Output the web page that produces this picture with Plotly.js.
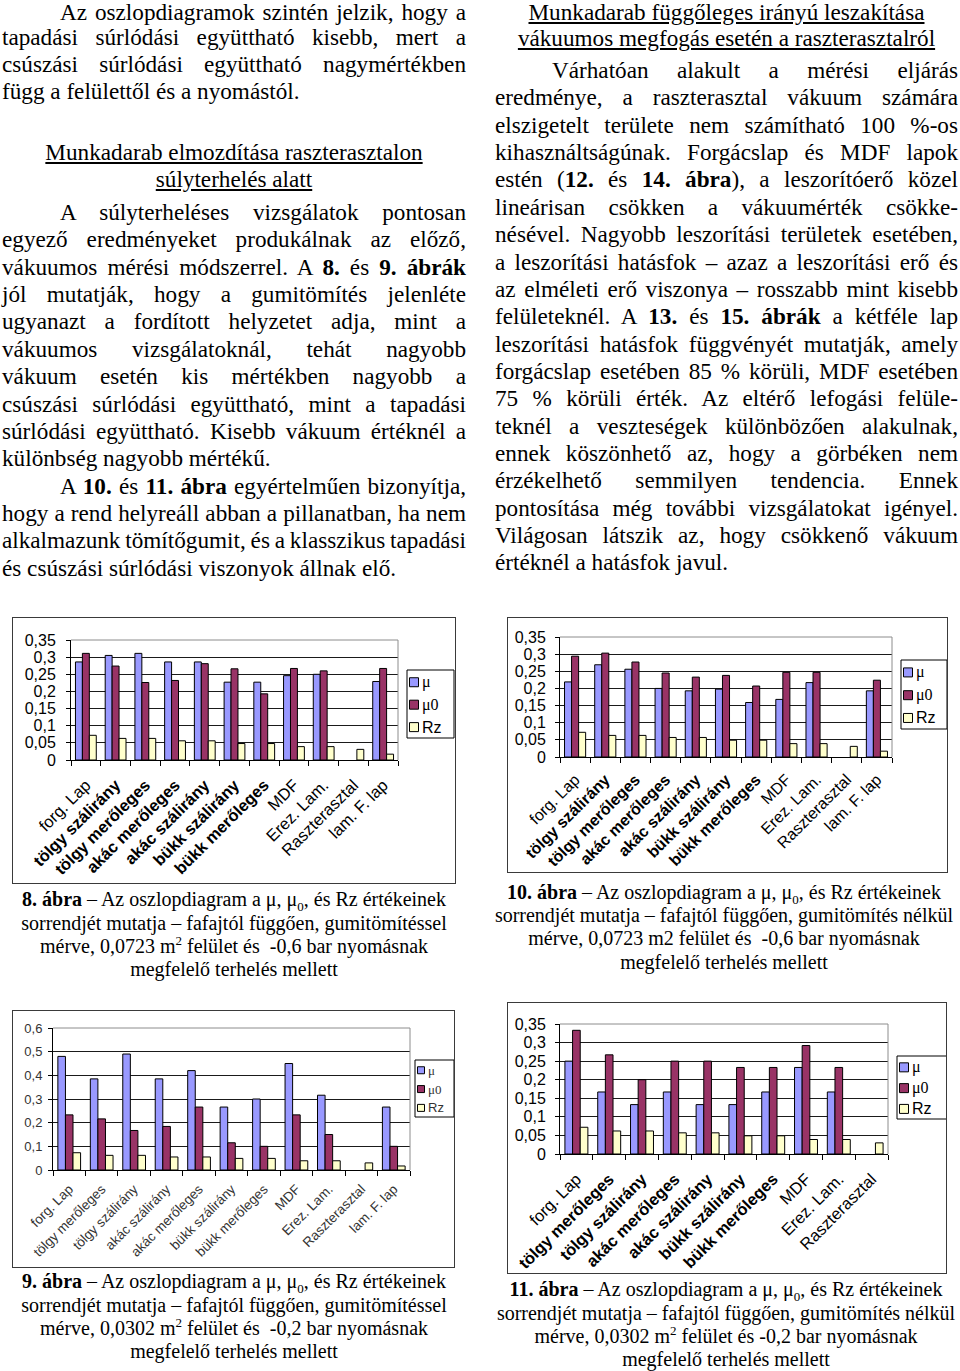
<!DOCTYPE html>
<html><head><meta charset="utf-8">
<script src="https://cdn.plot.ly/plotly-3.0.1.min.js"></script>
<style>
html,body{margin:0;padding:0;background:#fff;}
body{width:960px;height:1371px;position:relative;overflow:hidden;font-family:"Liberation Serif","Times New Roman",serif;color:#000;}
.ln{position:absolute;height:18px;line-height:18px;font-size:23.2px;white-space:nowrap;box-sizing:border-box;}
.ln > span{display:inline-block;line-height:18px;height:18px;vertical-align:top;}
.cap{position:absolute;height:23px;line-height:23px;font-size:20px;white-space:nowrap;text-align:center;}
.cap sub,.cap sup{font-size:13px;line-height:0;}
</style>
</head><body>
<script>
// ---------- DATA ----------
const seriesNames = ['μ', 'μ0', 'Rz'];

// 8. ábra
const cats8 = ['forg. Lap','tölgy szálirány','tölgy merőleges','akác merőleges','akác szálirány','bükk szálirány','bükk merőleges','MDF','Erez. Lam.','Raszterasztal','lam. F. lap'];
const bold8 = [0,1,1,1,1,1,1,0,0,0,0];
const mu8   = [0.286,0.305,0.311,0.286,0.286,0.227,0.227,0.246,0.250,null,0.229];
const mu0_8 = [0.311,0.274,0.226,0.232,0.281,0.266,0.193,0.267,0.260,null,0.267];
const rz8   = [0.072,0.063,0.063,0.056,0.056,0.048,0.048,0.039,0.039,0.031,0.017];

// 10. ábra
const cats10 = ['forg. Lap','tölgy szálirány','tölgy merőleges','akác merőleges','akác szálirány','bükk szálirány','bükk merőleges','MDF','Erez. Lam.','Raszterasztal','lam. F. lap'];
const bold10 = [0,1,1,1,1,1,1,0,0,0,0];
const mu10   = [0.219,0.269,0.256,0.200,0.193,0.198,0.159,0.168,0.217,null,0.193];
const mu0_10 = [0.294,0.303,0.277,0.245,0.233,0.238,0.207,0.247,0.247,null,0.224];
const rz10   = [0.072,0.063,0.063,0.057,0.057,0.049,0.049,0.039,0.039,0.031,0.017];

// 9. ábra
const cats9 = ['forg. Lap','tölgy merőleges','tölgy szálirány','akác szálirány','akác merőleges','bükk szálirány','bükk merőleges','MDF','Erez. Lam.','Raszterasztal','lam. F. lap'];
const bold9 = [0,0,0,0,0,0,0,0,0,0,0];
const mu9   = [0.480,0.385,0.490,0.385,0.420,0.266,0.300,0.450,0.316,null,0.266];
const mu0_9 = [0.233,0.216,0.167,0.184,0.266,0.115,0.100,0.233,0.150,null,0.100];
const rz9   = [0.073,0.062,0.062,0.055,0.055,0.049,0.049,0.039,0.039,0.030,0.017];

// 11. ábra
const cats11 = ['forg. Lap','tölgy merőleges','tölgy szálirány','akác merőleges','akác szálirány','bükk szálirány','bükk merőleges','MDF','Erez. Lam.','Raszterasztal'];
const bold11 = [0,1,1,1,1,1,1,0,0,0];
const mu11   = [0.250,0.167,0.133,0.167,0.133,0.133,0.167,0.233,0.167,null];
const mu0_11 = [0.333,0.267,0.200,0.250,0.250,0.233,0.233,0.292,0.233,null];
const rz11   = [0.072,0.062,0.062,0.057,0.057,0.049,0.049,0.039,0.039,0.030];

// y tick labels
const yTicksA = [0,0.05,0.1,0.15,0.2,0.25,0.3,0.35];
const yTextA  = ['0','0,05','0,1','0,15','0,2','0,25','0,3','0,35'];
const yTicksB = [0,0.1,0.2,0.3,0.4,0.5,0.6];
const yTextB  = ['0','0,1','0,2','0,3','0,4','0,5','0,6'];

// ---------- TEXT ----------
const leftLines = [
 [19.6,'ji','Az oszlopdiagramok szintén jelzik, hogy a'],
 [45.4,'j','tapadási súrlódási együttható kisebb, mert a'],
 [72.1,'j','csúszási súrlódási együttható nagymértékben'],
 [99.1,'l','függ a felülettől és a nyomástól.'],
 [160,'c','Munkadarab elmozdítása raszterasztalon'],
 [187,'c','súlyterhelés alatt'],
 [220,'ji','A súlyterheléses vizsgálatok pontosan'],
 [247.4,'j','egyező eredményeket produkálnak az előző,'],
 [274.7,'j','vákuumos mérési módszerrel. A <b>8.</b> és <b>9.</b> <b>ábrák</b>'],
 [302,'j','jól mutatják, hogy a gumitömítés jelenléte'],
 [329.4,'j','ugyanazt a fordított helyzetet adja, mint a'],
 [356.8,'j','vákuumos vizsgálatoknál, tehát nagyobb'],
 [384.1,'j','vákuum esetén kis mértékben nagyobb a'],
 [411.5,'j','csúszási súrlódási együttható, mint a tapadási'],
 [438.8,'j','súrlódási együttható. Kisebb vákuum értéknél a'],
 [466.2,'l','különbség nagyobb mértékű.'],
 [493.5,'ji','A <b>10.</b> és <b>11. ábra</b> egyértelműen bizonyítja,'],
 [520.9,'j','hogy a rend helyreáll abban a pillanatban, ha nem'],
 [548.2,'j','alkalmazunk tömítőgumit, és a klasszikus tapadási'],
 [575.6,'l','és csúszási súrlódási viszonyok állnak elő.']
];
const rightLines = [
 [19.6,'c','Munkadarab függőleges irányú leszakítása'],
 [46.2,'c','vákuumos megfogás esetén a raszterasztalról'],
 [78,'ji','Várhatóan alakult a mérési eljárás'],
 [105.4,'j','eredménye, a raszterasztal vákuum számára'],
 [132.7,'j','elszigetelt területe nem számítható 100 %-os'],
 [160.1,'j','kihasználtságúnak. Forgácslap és MDF lapok'],
 [187.4,'j','estén (<b>12.</b> és <b>14.</b> <b>ábra</b>), a leszorítóerő közel'],
 [214.8,'j','lineárisan csökken a vákuumérték csökke-'],
 [242.1,'j','nésével. Nagyobb leszorítási területek esetében,'],
 [269.5,'j','a leszorítási hatásfok – azaz a leszorítási erő és'],
 [296.8,'j','az elméleti erő viszonya – rosszabb mint kisebb'],
 [324.2,'j','felületeknél. A <b>13.</b> és <b>15.</b> <b>ábrák</b> a kétféle lap'],
 [351.5,'j','leszorítási hatásfok függvényét mutatják, amely'],
 [378.9,'j','forgácslap esetében 85 % körüli, MDF esetében'],
 [406.2,'j','75 % körüli érték. Az eltérő lefogási felüle-'],
 [433.6,'j','teknél a veszteségek különbözően alakulnak,'],
 [460.9,'j','ennek köszönhető az, hogy a görbéken nem'],
 [488.3,'j','érzékelhető semmilyen tendencia. Ennek'],
 [515.6,'j','pontosítása még további vizsgálatokat igényel.'],
 [543,'j','Világosan látszik az, hogy csökkenő vákuum'],
 [570.3,'l','értéknél a hatásfok javul.']
];
const captions = [
 [234,[906.7,930,953.3,976.7],['<b>8. ábra</b> – Az oszlopdiagram a μ, μ<sub>0</sub>, és Rz értékeinek','sorrendjét mutatja – fafajtól függően, gumitömítéssel','mérve, 0,0723 m<sup>2</sup> felület és &nbsp;-0,6 bar nyomásnak','megfelelő terhelés mellett']],
 [724,[899,922.3,945.7,969],['<b>10. ábra</b> – Az oszlopdiagram a μ, μ<sub>0</sub>, és Rz értékeinek','sorrendjét mutatja – fafajtól függően, gumitömítés nélkül','mérve, 0,0723 m2 felület és &nbsp;-0,6 bar nyomásnak','megfelelő terhelés mellett']],
 [234,[1288.5,1311.8,1335.1,1358.4],['<b>9. ábra</b> – Az oszlopdiagram a μ, μ<sub>0</sub>, és Rz értékeinek','sorrendjét mutatja – fafajtól függően, gumitömítéssel','mérve, 0,0302 m<sup>2</sup> felület és &nbsp;-0,2 bar nyomásnak','megfelelő terhelés mellett']],
 [726,[1296.5,1319.8,1343.1,1366.4],['<b>11. ábra</b> – Az oszlopdiagram a μ, μ<sub>0</sub>, és Rz értékeinek','sorrendjét mutatja – fafajtól függően, gumitömítés nélkül','mérve, 0,0302 m<sup>2</sup> felület és -0,2 bar nyomásnak','megfelelő terhelés mellett']]
];

function drawColumn(lines, colX, colW, indent){
  lines.forEach(([base,type,html])=>{
    const d=document.createElement('div');
    d.className='ln';
    d.style.left=colX+'px'; d.style.width=colW+'px'; d.style.top=(base-17)+'px';
    const s=document.createElement('span'); s.innerHTML=html; d.appendChild(s);
    if(type==='c'){ d.style.textAlign='center'; s.style.textDecoration='underline'; }
    if(type==='ji') d.style.paddingLeft=indent+'px';
    document.body.appendChild(d);
    if(type==='j'||type==='ji'){
      const target=colW-(type==='ji'?indent:0);
      const nat=s.getBoundingClientRect().width;
      const n=(s.textContent.match(/ /g)||[]).length;
      if(n>0) s.style.wordSpacing=((target-nat)/n)+'px';
    }
  });
}
drawColumn(leftLines,2,464,58);
drawColumn(rightLines,495,463,57);
captions.forEach(([cx,bases,lines])=>{
  lines.forEach((h,i)=>{
    const d=document.createElement('div'); d.className='cap';
    d.style.left=(cx-240)+'px'; d.style.width='480px'; d.style.top=(bases[i]-18.3)+'px';
    d.innerHTML=h; document.body.appendChild(d);
  });
});

// ---------- CHARTS ----------
const colors=['#9999FF','#993366','#FFFFCC'];
function drawChart(c){
  const wrap=document.createElement('div');
  wrap.style.cssText=`position:absolute;left:${c.frame[0]}px;top:${c.frame[1]}px;width:${c.frame[2]}px;height:${c.frame[3]}px;border:1px solid #3a3a3a;box-sizing:border-box;background:#fff;`;
  const d=document.createElement('div'); wrap.appendChild(d); document.body.appendChild(wrap);
  const ix=c.frame[0]+1, iy=c.frame[1]+1, iw=c.frame[2]-2, ih=c.frame[3]-2;
  const [x0,y0,x1,y1]=c.plot;
  const l=x0-ix, t=y0-iy, pw=x1-x0, ph=y1-y0, r=iw-l-pw, b=ih-t-ph;
  const px=x=>(x-x0)/pw, py=y=>(y1-y)/ph;
  const traces=c.series.map((s,i)=>({type:'bar',x:c.cats,y:s,name:seriesNames[i],
    marker:{color:colors[i],line:{color:'#000',width:1}},hoverinfo:'skip'}));
  const ticktext=c.cats.map((s,i)=>c.bold[i]?'<b>'+s+'</b>':s);
  const [Lx,Ly,Lw,Lh]=c.legend;
  const shapes=[
    {type:'line',xref:'paper',yref:'paper',x0:0,x1:1,y0:1,y1:1,line:{color:'#8c8c8c',width:1},layer:'above'},
    {type:'line',xref:'paper',yref:'paper',x0:1,x1:1,y0:0,y1:1,line:{color:'#8c8c8c',width:1},layer:'above'},
    {type:'rect',xref:'paper',yref:'paper',x0:px(Lx),x1:px(Lx+Lw),y0:py(Ly+Lh),y1:py(Ly),line:{color:'#000',width:1},fillcolor:'#fff',layer:'above'}
  ];
  const ann=[];
  seriesNames.forEach((n,i)=>{
    const cy=Ly+Lh*(0.18+0.33*i), sx=Lx+2.5;
    shapes.push({type:'rect',xref:'paper',yref:'paper',x0:px(sx),x1:px(sx+c.sw),y0:py(cy+c.sw/2),y1:py(cy-c.sw/2),line:{color:'#000',width:1},fillcolor:colors[i],layer:'above'});
    ann.push({xref:'paper',yref:'paper',x:px(sx+c.sw+1.5),y:py(cy),xanchor:'left',yanchor:'middle',showarrow:false,text:n,
      font:{family:i<2?'Liberation Serif, serif':'Liberation Sans, Arial, sans-serif',size:c.lfs,color:c.fc}});
  });
  const layout={
    width:iw,height:ih,margin:{l:l,t:t,r:r,b:b,pad:0},
    paper_bgcolor:'#fff',plot_bgcolor:'#fff',
    barmode:'group',bargap:0.3,bargroupgap:0,showlegend:false,
    font:{family:'Liberation Sans, Arial, sans-serif',size:c.fs,color:c.fc},
    xaxis:{type:'category',tickmode:'array',tickvals:c.cats,ticktext:ticktext,tickangle:-45,
      ticks:'outside',ticklen:5,tickson:'boundaries',tickcolor:'#000',showline:true,linecolor:'#000',linewidth:1,
      showgrid:false,fixedrange:true,tickfont:{size:c.xfs,color:c.fc},ticklabelstandoff:c.xstand,automargin:false,range:[-0.5,c.cats.length-0.5]},
    yaxis:{range:[0,c.ymax],tickmode:'array',tickvals:c.yv,ticktext:c.yt,ticks:'outside',ticklen:4,tickcolor:'#000',
      showline:true,linecolor:'#000',linewidth:1,showgrid:true,gridcolor:'#1a1a1a',gridwidth:1,zeroline:false,
      ticklabelstandoff:c.ystand,tickfont:{size:c.fs,color:c.fc},automargin:false,fixedrange:true},
    shapes:shapes,annotations:ann
  };
  Plotly.newPlot(d,traces,layout,{staticPlot:true,displayModeBar:false});
}

drawChart({frame:[12,617,444,267],plot:[71,640,398,760],legend:[407,670,47,68],sw:9,fs:16,xfs:16.5,lfs:16,fc:'#000',xstand:8,
  cats:cats8,bold:bold8,series:[mu8,mu0_8,rz8],ymax:0.35,yv:yTicksA,yt:yTextA,ystand:7});
drawChart({frame:[507,617,441,256],plot:[560,637,892,757],legend:[901,660,46,69],sw:9,fs:16,xfs:16,lfs:16,fc:'#000',xstand:6,
  cats:cats10,bold:bold10,series:[mu10,mu0_10,rz10],ymax:0.35,yv:yTicksA,yt:yTextA,ystand:6});
drawChart({frame:[12,1010,443,258],plot:[53,1028,410,1170],legend:[415,1060,39,57],sw:7,fs:13,xfs:13.5,lfs:13,fc:'#333',xstand:5,
  cats:cats9,bold:bold9,series:[mu9,mu0_9,rz9],ymax:0.6,yv:yTicksB,yt:yTextB,ystand:3});
drawChart({frame:[507,1002,440,272],plot:[560,1024,888,1154],legend:[897,1056,50,63],sw:9,fs:16,xfs:16.5,lfs:16,fc:'#000',xstand:8,
  cats:cats11,bold:bold11,series:[mu11,mu0_11,rz11],ymax:0.35,yv:yTicksA,yt:yTextA,ystand:6});
</script>
</body></html>
